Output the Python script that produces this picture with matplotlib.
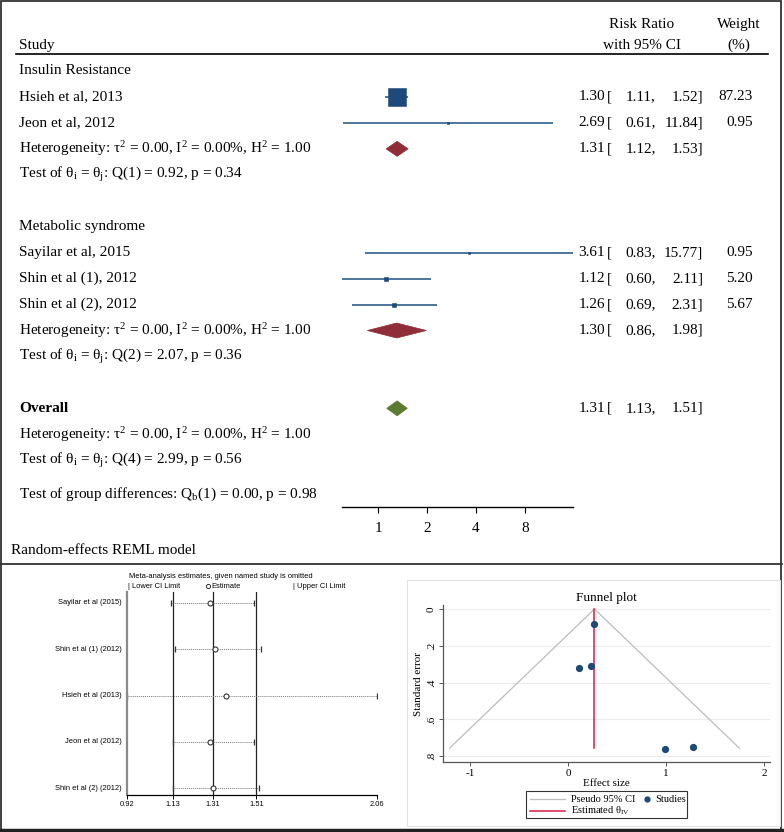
"""
Figura compuesta: forest plot por subgrupos + análisis de sensibilidad + funnel plot.
"""
import matplotlib
matplotlib.use("Agg")
import matplotlib.pyplot as plt
import matplotlib.transforms as mtransforms
from matplotlib.lines import Line2D
from matplotlib.patches import Rectangle, Polygon
import numpy as np

plt.rcParams["font.family"] = ["Liberation Serif", "DejaVu Serif"]
plt.rcParams["mathtext.fontset"] = "custom"
plt.rcParams["mathtext.rm"] = "Liberation Serif"
plt.rcParams["mathtext.it"] = "Liberation Serif:italic"
plt.rcParams["mathtext.bf"] = "Liberation Serif:bold"

# ---- datos del forest plot ----
estudios = ["Hsieh et al, 2013", "Jeon et al, 2012",
            "Sayilar et al, 2015", "Shin et al (1), 2012", "Shin et al (2), 2012"]
grupo_de = [0, 0, 1, 1, 1]
rr = [1.30, 2.69, 3.61, 1.12, 1.26]
rr_lo = [1.11, 0.61, 0.83, 0.60, 0.69]
rr_hi = [1.52, 11.84, 15.77, 2.11, 2.31]
peso = [87.23, 0.95, 0.95, 5.20, 5.67]

grupos = ["Insulin Resistance", "Metabolic syndrome"]
sub_rr = [1.31, 1.30]
sub_lo = [1.12, 0.86]
sub_hi = [1.53, 1.98]
sub_het = ["0.00", "0.00%", "1.00"], ["0.00", "0.00%", "1.00"]
sub_q = ["Q(1) = 0.92, p = 0.34", "Q(2) = 2.07, p = 0.36"]

tot_rr, tot_lo, tot_hi = 1.31, 1.13, 1.51
tot_het = ["0.00", "0.00%", "1.00"]
tot_q = "Q(4) = 2.99, p = 0.56"
dif_q = "(1) = 0.00, p = 0.98"
x_ticks = [1, 2, 4, 8]

# ---- datos de sensibilidad (estudio omitido) ----
loo_nombres = ["Sayilar et al (2015)", "Shin et al (1) (2012)", "Hsieh et al (2013)",
               "Jeon et al (2012)", "Shin et al (2) (2012)"]
loo_est = [1.30, 1.32, 1.37, 1.30, 1.31]
loo_lo = [1.12, 1.14, 0.92, 1.13, 1.13]
loo_hi = [1.50, 1.53, 2.06, 1.50, 1.52]
loo_ticks = [0.92, 1.13, 1.31, 1.51, 2.06]

# ---- datos del funnel plot ----
fun_efecto = [0.26, 0.99, 1.28, 0.11, 0.23]
fun_se = [0.08, 0.76, 0.75, 0.32, 0.31]
fun_theta = 0.27
fun_ci_x = [-1.21, 0.27, 1.75]
fun_ci_se = [0.757, 0.0, 0.757]

W, H = 784, 832
fig = plt.figure(figsize=(W / 100, H / 100), dpi=100)


def fx(px):
    return px / W


def fy(py):
    return 1 - py / H


def caja(izq, arr, der, abajo):
    return [fx(izq), fy(abajo), (der - izq) / W, (abajo - arr) / H]


AZUL = "#1d4a78"
AZUL_L = "#2f5f8e"
ROJO = "#8f2d38"
VERDE = "#5a7a30"
GRIS_CI = "#bdbdbd"
ROJO_EST = "#d81b4a"
FS = 11

# ================= forest plot =================
paso = 25.95
y0 = 71
eje_y = 507
ax = fig.add_axes(caja(342, 0, 573, eje_y))
ax.set_xscale("log", base=2)
ax.set_xlim(min(rr_lo), max(rr_hi))
ax.set_ylim((eje_y - y0) / paso, -y0 / paso)
for s in ["top", "right", "left"]:
    ax.spines[s].set_visible(False)
ax.spines["bottom"].set_linewidth(1.0)
ax.set_xticks(x_ticks)
ax.set_xticklabels([str(t) for t in x_ticks], fontsize=FS)
ax.xaxis.set_minor_locator(matplotlib.ticker.NullLocator())
ax.tick_params(axis="x", length=4, width=0.8, pad=7)
ax.set_yticks([])
ax.patch.set_alpha(0)

tr = mtransforms.blended_transform_factory(fig.transFigure, ax.transData)


def texto_fila(fila, etiqueta, est=None, lo=None, hi=None, w=None, **kw):
    ax.text(fx(19), fila, etiqueta, transform=tr, fontsize=FS, va="center", ha="left", **kw)
    if est is not None:
        ax.text(fx(605), fila, f"{est:.2f}", transform=tr, fontsize=FS, va="center", ha="right")
        ax.text(fx(607), fila, "[", transform=tr, fontsize=FS, va="center", ha="left")
        ax.text(fx(656), fila, f"{lo:.2f},", transform=tr, fontsize=FS, va="center", ha="right")
        ax.text(fx(703), fila, f"{hi:.2f}]", transform=tr, fontsize=FS, va="center", ha="right")
    if w is not None:
        ax.text(fx(753), fila, f"{w:.2f}", transform=tr, fontsize=FS, va="center", ha="right")


def diamante(fila, est, lo, hi, color):
    h = 7.5 / paso
    ax.add_patch(Polygon([(lo, fila), (est, fila - h), (hi, fila), (est, fila + h)],
                         closed=True, facecolor=color, edgecolor=color, lw=0.5))


def het_txt(v):
    return (r"Heterogeneity: $\mathrm{\tau^2}$ = " + v[0] + r", $\mathrm{I^2}$ = " + v[1]
            + r", $\mathrm{H^2}$ = " + v[2])


def test_txt(q):
    return r"Test of $\mathrm{\theta_i}$ = $\mathrm{\theta_j}$: " + q


# encabezado
ax.text(fx(19), -1.0, "Study", transform=tr, fontsize=FS, va="center")
ax.text(fx(642), -1.8, "Risk Ratio", transform=tr, fontsize=FS, va="center", ha="center")
ax.text(fx(642), -1.0, "with 95% CI", transform=tr, fontsize=FS, va="center", ha="center")
ax.text(fx(739), -1.8, "Weight", transform=tr, fontsize=FS, va="center", ha="center")
ax.text(fx(739), -1.0, "(%)", transform=tr, fontsize=FS, va="center", ha="center")
fig.add_artist(Line2D([fx(16), fx(768)], [fy(54), fy(54)], color="black", lw=1.2))

fila = 0
for g, nombre in enumerate(grupos):
    texto_fila(fila, nombre)
    fila += 1
    for i in range(len(estudios)):
        if grupo_de[i] != g:
            continue
        ax.plot([rr_lo[i], rr_hi[i]], [fila, fila], color=AZUL_L, lw=1.2, solid_capstyle="butt")
        ms = max(13.0 * np.sqrt(peso[i] / max(peso)), 2.0)
        ax.plot(rr[i], fila, marker="s", ms=ms, color=AZUL, mec=AZUL, mew=0.4)
        texto_fila(fila, estudios[i], rr[i], rr_lo[i], rr_hi[i], peso[i])
        fila += 1
    diamante(fila, sub_rr[g], sub_lo[g], sub_hi[g], ROJO)
    texto_fila(fila, het_txt(sub_het[g]), sub_rr[g], sub_lo[g], sub_hi[g])
    fila += 1
    texto_fila(fila, test_txt(sub_q[g]))
    fila += 2

diamante(fila, tot_rr, tot_lo, tot_hi, VERDE)
texto_fila(fila, "Overall", tot_rr, tot_lo, tot_hi, fontweight="bold")
fila += 1
texto_fila(fila, het_txt(tot_het))
fila += 1
texto_fila(fila, test_txt(tot_q))
fila += 1.3
texto_fila(fila, r"Test of group differences: Q$_\mathrm{b}$" + dif_q)

fig.text(fx(11), fy(550), "Random-effects REML model", fontsize=FS, va="center")

# marcos
fig.add_artist(Rectangle((fx(1), fy(830)), 780 / W, 829 / H, fill=False,
                         edgecolor="#333333", lw=1.3))
fig.add_artist(Line2D([fx(0), fx(782)], [fy(564), fy(564)], color="#333333", lw=1.3))
fig.add_artist(Line2D([fx(0), fx(784)], [fy(830), fy(830)], color="#222222", lw=2.5))

# ================= sensibilidad =================
SANS = ["Liberation Sans", "DejaVu Sans"]
FS2 = 5.4
bx = fig.add_axes(caja(127, 592, 377, 795))
bx.set_xlim(min(loo_ticks), max(loo_ticks))
r0, rp = 603, 46.25
bx.set_ylim((795 - r0) / rp, (592 - r0) / rp)
for s in ["top", "right"]:
    bx.spines[s].set_visible(False)
bx.spines["left"].set_color("#8a8a8a")
bx.spines["left"].set_linewidth(1.6)
bx.spines["bottom"].set_linewidth(0.9)
bx.set_yticks([])
bx.set_xticks(loo_ticks)
bx.set_xticklabels([f"{t:.2f}" for t in loo_ticks], fontsize=FS2, family=SANS)
bx.tick_params(axis="x", length=3, width=0.7, pad=1.5)
for v in loo_ticks[1:4]:
    bx.axvline(v, color="#222222", lw=0.9)
trb = mtransforms.blended_transform_factory(fig.transFigure, bx.transData)
for i, nombre in enumerate(loo_nombres):
    bx.plot([loo_lo[i], loo_hi[i]], [i, i], color="#7a7a7a", lw=0.7, ls=(0, (1, 1)))
    bx.plot([loo_lo[i], loo_hi[i]], [i, i], ls="none", marker="|", ms=5, mew=0.9, color="#333333")
    bx.plot(loo_est[i], i, ls="none", marker="o", ms=3.6, mfc="white", mec="#333333", mew=0.8)
    bx.text(fx(122), i, nombre, transform=trb, fontsize=FS2, family=SANS, ha="right", va="center")
bx.patch.set_alpha(0)

fig.text(fx(129), fy(576), "Meta-analysis estimates, given named study is omitted",
         fontsize=FS2, family=SANS, va="center")
fig.text(fx(128), fy(586), "| Lower CI Limit", fontsize=FS2, family=SANS, va="center")
fig.add_artist(Line2D([fx(208)], [fy(586)], marker="o", ms=3, mfc="white", mec="#333333", mew=0.7))
fig.text(fx(211), fy(586), "Estimate", fontsize=FS2, family=SANS, va="center")
fig.text(fx(293), fy(586), "| Upper CI Limit", fontsize=FS2, family=SANS, va="center")

# ================= funnel plot =================
fig.add_artist(Rectangle((fx(407), fy(826)), (780 - 407) / W, (826 - 580) / H, fill=False,
                         edgecolor="#e2e2e2", lw=0.8))
cx = fig.add_axes(caja(443, 605, 770, 762))
cx.set_xlim(-1.276, 2.061)
cx.set_ylim(0.8315, -0.0217)
for s in ["top", "right"]:
    cx.spines[s].set_visible(False)
for s in ["left", "bottom"]:
    cx.spines[s].set_color("#555555")
    cx.spines[s].set_linewidth(0.9)
cx.set_yticks([0, 0.2, 0.4, 0.6, 0.8])
cx.set_yticklabels(["0", ".2", ".4", ".6", ".8"], rotation=90, va="center", fontsize=8)
cx.set_xticks([-1, 0, 1, 2])
cx.set_xticklabels(["-1", "0", "1", "2"], fontsize=8)
cx.tick_params(length=3, width=0.7, color="#555555", pad=2)
cx.grid(axis="y", color="#ececec", lw=0.8)
cx.set_axisbelow(True)
cx.plot(fun_ci_x, fun_ci_se, color=GRIS_CI, lw=0.9)
cx.plot([fun_theta, fun_theta], [0, max(fun_ci_se)], color=ROJO_EST, lw=1.1)
cx.plot(fun_efecto, fun_se, ls="none", marker="o", ms=4.2, color=AZUL)
cx.set_title("Funnel plot", fontsize=9.5, pad=3)
cx.set_xlabel("Effect size", fontsize=8, labelpad=1)
cx.set_ylabel("Standard error", fontsize=8, labelpad=3)

# leyenda dibujada a mano, como la de Stata
fig.add_artist(Rectangle((fx(526), fy(818)), (687 - 526) / W, (818 - 791) / H, fill=False,
                         edgecolor="#333333", lw=0.8))
fig.add_artist(Line2D([fx(530), fx(565)], [fy(799), fy(799)], color=GRIS_CI, lw=0.9))
fig.add_artist(Line2D([fx(530), fx(565)], [fy(811), fy(811)], color=ROJO_EST, lw=1.1))
fig.add_artist(Line2D([fx(647)], [fy(799)], marker="o", ms=3.5, color=AZUL))
fig.text(fx(571), fy(799), "Pseudo 95% CI", fontsize=7.5, va="center")
fig.text(fx(571), fy(811), r"Estimated $\mathrm{\theta_{IV}}$", fontsize=7.5, va="center")
fig.text(fx(655), fy(799), "Studies", fontsize=7.5, va="center")

fig.savefig("out.png", dpi=100)
